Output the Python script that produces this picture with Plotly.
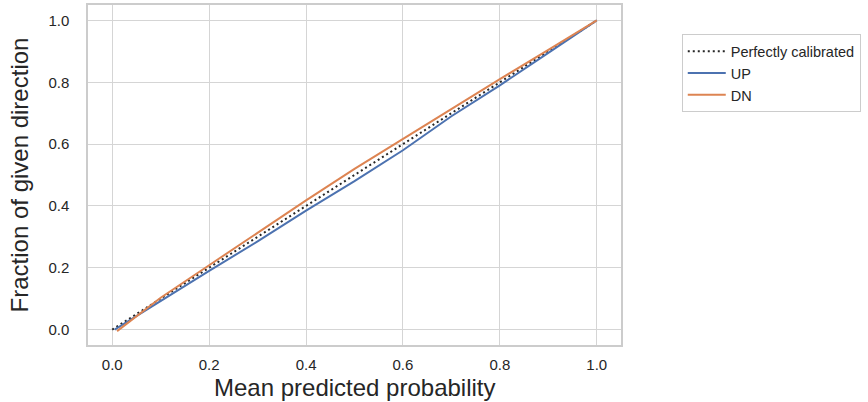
import plotly.graph_objects as go

perfect_x = [0.0, 1.0]
perfect_y = [0.0, 1.0]

up_x = [0.005, 0.1, 0.2, 0.3, 0.4, 0.5, 0.6, 0.7, 0.8, 0.9, 1.0]
up_y = [0.0, 0.093, 0.19, 0.285, 0.385, 0.48, 0.58, 0.69, 0.79, 0.895, 1.0]

dn_x = [0.01, 0.1, 0.2, 0.3, 0.4, 0.5, 0.6, 0.7, 0.8, 0.9, 1.0]
dn_y = [-0.005, 0.103, 0.208, 0.313, 0.418, 0.52, 0.617, 0.713, 0.81, 0.905, 1.0]

x_ticks = [0.0, 0.2, 0.4, 0.6, 0.8, 1.0]
y_ticks = [0.0, 0.2, 0.4, 0.6, 0.8, 1.0]

FONT = "Liberation Sans, Arial, sans-serif"

fig = go.Figure()
fig.add_trace(go.Scatter(x=perfect_x, y=perfect_y, mode="lines", name="Perfectly calibrated",
                         line=dict(color="#262626", width=2, dash="2px,3px")))
fig.add_trace(go.Scatter(x=up_x, y=up_y, mode="lines", name="UP",
                         line=dict(color="#4c72b0", width=2)))
fig.add_trace(go.Scatter(x=dn_x, y=dn_y, mode="lines", name="DN",
                         line=dict(color="#dd8452", width=2)))

axis_common = dict(
    showgrid=True, gridcolor="#d5d5d5", gridwidth=1.3,
    showline=True, linecolor="#cccccc", linewidth=1.5, mirror=True,
    zeroline=False, ticks="", range=[-0.05, 1.05], automargin=False,
    tickfont=dict(family=FONT, size=15, color="#262626"),
    tickformat=".1f",
)

fig.update_layout(
    width=868, height=402,
    margin=dict(l=88, r=247, t=5, b=57),
    paper_bgcolor="white", plot_bgcolor="white",
    font=dict(family=FONT, color="#262626"),
    xaxis=dict(**axis_common, tickvals=x_ticks, ticklabelstandoff=5),
    yaxis=dict(**axis_common, tickvals=y_ticks, ticklabelstandoff=14,
               title=dict(text="Fraction of given direction", font=dict(size=24, color="#262626"), standoff=13)),
    legend=dict(x=1.114, y=0.914, xanchor="left", yanchor="top",
                bordercolor="#cccccc", borderwidth=1, bgcolor="white",
                font=dict(family=FONT, size=14.5, color="#262626"),
                itemwidth=38, tracegroupgap=0),
    showlegend=True,
    annotations=[dict(text="Mean predicted probability", xref="paper", yref="paper",
                      x=0.5, y=-0.125, xanchor="center", yanchor="middle", showarrow=False,
                      font=dict(family=FONT, size=24, color="#262626"))],
)

fig.write_html("out.html")
